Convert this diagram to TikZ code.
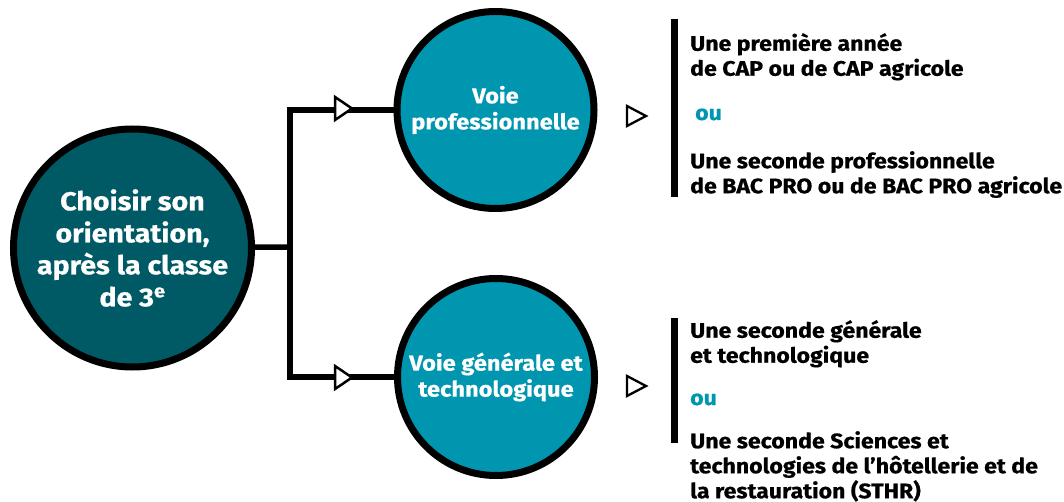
\documentclass[tikz,border=0pt]{standalone}
\usepackage{fontspec}
\setmainfont{Fira Sans}[UprightFont=* Bold, UprightFeatures={FakeStretch=1.1, FakeBold=0.6}]
\definecolor{darkteal}{HTML}{005A66}
\definecolor{lightteal}{HTML}{0096B0}
\begin{document}
\begin{tikzpicture}[x=1pt,y=-1pt,
  bigc/.style={circle,draw=black,line width=7pt,fill=darkteal,minimum size=238pt,inner sep=0pt,text=white,align=center,font=\fontsize{26}{32}\selectfont},
  smallc/.style={circle,draw=black,line width=7pt,fill=lightteal,minimum size=197pt,inner sep=0pt,text=white,align=center,font=\fontsize{21.5}{26}\selectfont},
  conn/.style={line width=5.5pt,line join=miter},
  tri/.style={draw=black,fill=white,line width=2.5pt,line join=miter},
  bar/.style={line width=7pt},
  para/.style={anchor=north west,inner sep=0pt,align=left,font=\fontsize{21}{25}\selectfont},
  oustyle/.style={anchor=base west,inner sep=0pt,text=lightteal,font=\fontsize{21}{25}\selectfont}]
\useasboundingbox (0,0) rectangle (1064,502);
% circles
\node[bigc] (big) at (132.5,248) {Choisir son\\orientation,\\après la classe\\de 3\textsuperscript{e}};
\node[smallc] (vp) at (495.5,110) {Voie\\professionnelle};
\node[smallc] (vg) at (496,377) {Voie générale et\\technologique};
% connectors
\coordinate (jn) at (290,247);
\draw[conn] (big) -- (jn);
\draw[conn] (vp.west) -| (jn) |- (vg.west);
\draw[tri] (335,97) -- (352,108.5) -- (335,120) -- cycle;
\draw[tri] (335,366) -- (352,377.5) -- (335,389) -- cycle;
% outcome markers
\draw[line width=2.3pt,line join=miter] (627,106) -- (646,116) -- (627,126) -- cycle;
\draw[line width=2.3pt,line join=miter] (627,376) -- (646,386) -- (627,396) -- cycle;
\coordinate (b1t) at (674.5,19);
\coordinate (b1b) at (674.5,197);
\coordinate (b2t) at (674.5,318);
\coordinate (b2b) at (674.5,443);
\draw[bar] (b1t) -- (b1b);
\draw[bar] (b2t) -- (b2b);
% texts upper
\node[para] (p1) at (690,33) {Une première année\\de CAP ou de CAP agricole};
\node[oustyle] (ou1) at (695,120) {ou};
\node[para] (p2) at (690,151) {Une seconde professionnelle\\de BAC PRO ou de BAC PRO agricole};
% texts lower
\node[para] (p3) at (690,320) {Une seconde générale\\et technologique};
\node[oustyle] (ou2) at (690,405) {ou};
\node[para] (p4) at (690,431) {Une seconde Sciences et\\technologies de l’hôtellerie et de\\la restauration (STHR)};
\end{tikzpicture}
\end{document}
